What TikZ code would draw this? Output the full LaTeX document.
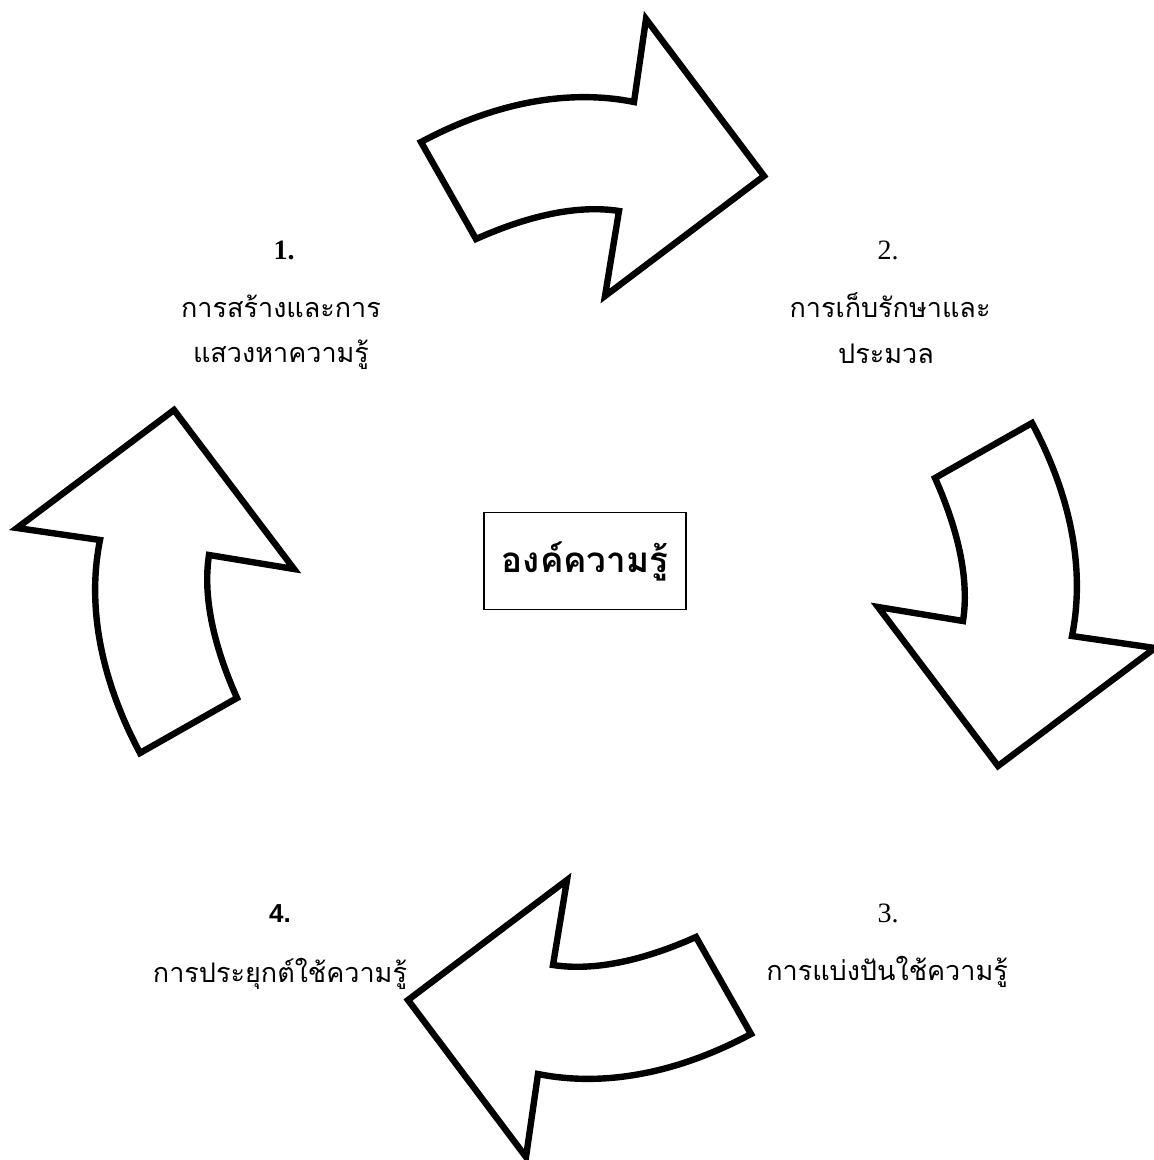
\documentclass[tikz,border=0pt]{standalone}
\usepackage{fontspec}
\setmainfont{Liberation Serif}
\newfontfamily\thaifont[Script=Thai]{Loma}
\newfontfamily\numsans{Liberation Sans}
\usetikzlibrary{positioning}

\tikzset{
  bigarrow/.pic={
    \draw[line width=3.2pt, fill=white]
      (-165,-446) -- (-110,-349)
      .. controls (-54,-374) and (-6,-383) .. (33,-377)
      -- (19,-292) -- (178,-412) -- (60,-569) -- (48,-486)
      .. controls (-17,-499) and (-90,-486) .. cycle;
  }
}

\begin{document}
\begin{tikzpicture}[x=0.5pt,y=-0.5pt,
   lbl/.style={font=\thaifont\fontsize{13.5}{16}\selectfont,anchor=base,inner sep=0pt},
   num/.style={font=\fontsize{14}{16}\selectfont,anchor=base,inner sep=0pt},
   core/.style={draw,line width=0.8pt,minimum width=101pt,minimum height=48.5pt,
             font=\thaifont\bfseries\fontsize{17.5}{20}\selectfont}]
  \useasboundingbox (0,0) rectangle (1153,1160);

  \pic at (586,588) {bigarrow};
  \pic[rotate=-90] at (586,588) {bigarrow};
  \pic[rotate=180] at (586,588) {bigarrow};
  \pic[rotate=90] at (586,588) {bigarrow};

  \node[core] (core) at (585,561) {องค์ความรู้};

  \node[num,font=\bfseries\fontsize{14}{16}\selectfont] (n1) at (284,260) {1.};
  \node[lbl] (t1a) at (281,317) {การสร้างและการ};
  \node[lbl] (t1b) at (281,362) {แสวงหาความรู้};

  \node[num] (n2) at (888,260) {2.};
  \node[lbl] (t2a) at (890,318) {การเก็บรักษาและ};
  \node[lbl] (t2b) at (886,363) {ประมวล};

  \node[num] (n3) at (888,922) {3.};
  \node[lbl] (t3) at (887,980) {การแบ่งปันใช้ความรู้};

  \node[num,font=\numsans\bfseries\fontsize{13}{16}\selectfont] (n4) at (280,922) {4.};
  \node[lbl] (t4) at (280,982) {การประยุกต์ใช้ความรู้};
\end{tikzpicture}
\end{document}
